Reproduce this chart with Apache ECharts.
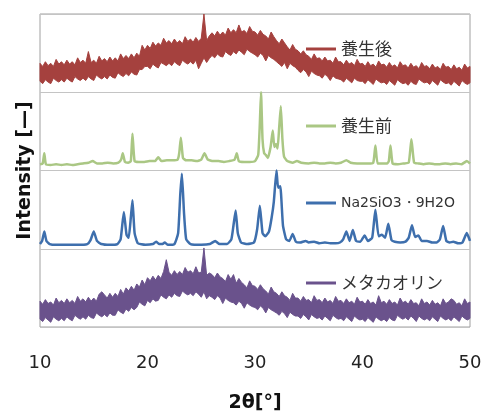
<!DOCTYPE html>
<html><head><meta charset="utf-8">
<script src="https://cdn.jsdelivr.net/npm/echarts@6/dist/echarts.min.js"></script>
<style>html,body{margin:0;padding:0;background:#fff}#c{width:486px;height:418px}</style>
</head><body><div id="c"></div>
<script>
// Names
const names = ['養生後', '養生前', 'Na2SiO3・9H2O', 'メタカオリン'];
const colors = ['#a5413e', '#aac784', '#3e6fad', '#6a528c'];
const xTicks = [10, 20, 30, 40, 50];

// Noisy amorphous patterns sampled every 0.25° from 10° to 50°:
// lower and upper edges of the noise band
const noisyStart = 10, noisyStep = 0.25;
const afterCuringHi = [
37,33,39,34, 37,33,42,36, 39,35,41,36, 39,35,44,38, 41,37,52,38,
41,37,46,40, 43,39,45,40, 44,40,49,43, 47,43,49,44, 50,46,60,54,
60,56,64,59, 63,60,69,63, 66,62,68,63, 66,62,71,65, 68,64,70,65,
69,100,66,72, 76,72,78,73, 77,73,82,76, 80,76,86,77, 79,75,84,78,
77,73,79,74, 72,68,77,71, 66,62,68,63, 58,54,61,55, 53,49,53,48,
46,42,49,43, 44,40,45,40, 41,37,45,39, 39,35,41,36, 38,34,42,36,
37,33,39,34, 36,32,40,35, 36,32,38,33, 35,31,39,34, 35,31,37,32,
34,30,38,33, 34,30,36,31, 33,29,37,32, 33,29,35,30, 32,28,36,31,
33];
const afterCuringLo = [
14,11,16,13, 11,18,15,13, 16,13,18,15, 13,20,17,15, 18,15,20,17,
15,22,19,17, 20,17,22,19, 18,25,22,20, 24,21,26,23, 22,29,29,33,
33,30,36,33, 31,38,36,34, 37,34,39,36, 34,41,38,36, 39,36,41,30,
37,44,38,43, 47,44,49,46, 45,52,49,47, 52,49,54,51, 48,55,52,50,
48,45,50,47, 40,47,44,42, 39,36,33,38, 30,37,34,32, 28,25,29,26,
20,27,24,22, 21,18,23,20, 15,21,18,17, 16,13,18,15, 12,18,15,14,
14,11,16,13, 10,17,14,12, 13,10,15,12, 9,16,13,11, 12,9,14,11,
10,17,14,12, 13,10,15,12, 9,16,13,11, 12,9,14,11, 8,15,12,10,
12];
const metakaolinHi = [
33,29,35,30, 32,28,37,31, 34,30,36,31, 34,30,39,33, 36,32,38,33,
37,33,42,45, 41,37,43,38, 43,39,48,42, 50,46,52,47, 55,51,60,54,
63,59,65,60, 66,62,71,86, 70,66,72,67, 71,67,76,70, 72,68,77,69,
70,101,66,69, 67,63,69,64, 62,58,67,61, 67,56,62,57, 54,50,59,53,
52,48,54,49, 46,42,51,45, 43,39,45,40, 38,34,43,37, 37,33,39,34,
35,31,40,34, 35,31,37,32, 34,30,39,33, 34,30,36,31, 33,29,38,32,
33,29,35,30, 32,28,40,31, 33,29,35,30, 32,28,37,31, 33,29,35,30,
31,27,36,30, 32,28,34,29, 31,27,36,30, 32,36,34,29, 31,27,36,30,
32];
const metakaolinLo = [
10,7,12,9, 6,13,10,8, 11,8,13,10, 8,15,12,10, 13,10,15,12,
11,18,15,13, 16,13,18,15, 15,22,19,17, 23,20,25,22, 25,32,29,27,
34,31,36,33, 34,41,38,36, 41,38,43,40, 39,46,43,41, 43,40,45,42,
38,45,36,40, 38,35,40,37, 30,37,34,32, 31,28,33,30, 24,31,28,26,
25,22,27,24, 18,25,22,20, 18,15,20,17, 12,19,16,14, 14,11,16,13,
9,16,13,11, 12,9,14,11, 8,15,12,10, 11,8,13,10, 7,14,11,9,
10,7,12,9, 6,13,10,8, 10,7,12,9, 8,15,12,10, 12,9,14,11,
7,14,11,9, 11,8,13,10, 7,14,11,9, 11,8,13,10, 7,14,11,9,
11];

// Crystalline patterns: 2θ positions and intensities
const beforeX = [10.0,10.25,10.4,10.55,11.0,11.5,12.0,12.5,13.0,13.5,14.0,14.5,14.9,15.3,15.8,16.3,16.8,17.3,17.55,17.7,17.9,18.2,18.45,18.6,18.8,19.2,19.7,20.2,20.7,21.0,21.3,21.8,22.3,22.8,22.95,23.1,23.3,23.6,24.1,24.6,25.0,25.3,25.6,26.1,26.6,27.1,27.6,28.1,28.3,28.5,29.0,29.5,30.0,30.3,30.45,30.56,30.7,30.85,31.0,31.2,31.45,31.65,31.8,31.95,32.1,32.25,32.4,32.55,32.7,33.0,33.5,33.9,34.3,35.0,35.5,36.0,36.5,37.0,37.5,38.0,38.5,38.9,39.5,40.0,40.5,41.0,41.2,41.4,41.8,42.3,42.45,42.6,42.8,43.3,43.8,44.3,44.55,44.8,45.2,45.7,46.2,46.7,47.2,47.7,48.2,48.7,49.2,49.7,50.0];
const beforeY = [8,9,22,8,7,8,7,8,7,8,9,10,12,9,9,10,9,10,14,22,11,10,12,47,12,11,11,12,12,17,12,13,13,14,22,42,16,13,13,12,14,22,14,12,12,11,12,14,22,12,11,11,12,20,60,100,40,22,20,16,30,51,30,34,28,55,82,40,18,12,10,12,10,9,10,9,9,10,9,10,13,10,9,9,9,10,32,9,9,9,12,32,9,8,9,10,40,10,9,8,9,8,8,9,8,9,8,12,9];

const naX = [10.0,10.2,10.4,10.6,10.9,11.5,12.5,13.5,14.4,14.7,15.0,15.3,15.7,16.5,17.2,17.5,17.8,18.05,18.25,18.45,18.6,18.8,19.1,19.8,20.5,20.8,21.1,21.4,21.6,21.9,22.5,22.85,23.05,23.2,23.4,23.6,24.0,25.0,25.8,26.3,26.7,27.4,27.8,28.0,28.2,28.4,28.7,29.3,29.9,30.2,30.45,30.7,30.95,31.3,31.55,31.75,32.0,32.15,32.35,32.6,32.9,33.2,33.5,33.8,34.2,34.7,35.0,35.5,36.0,36.5,37.0,37.5,37.9,38.2,38.5,38.8,39.1,39.4,39.8,40.2,40.5,40.9,41.2,41.5,41.8,42.1,42.4,42.7,43.0,43.5,44.0,44.3,44.6,44.9,45.2,45.5,46.0,46.5,46.9,47.2,47.5,47.8,48.1,48.45,48.9,49.3,49.7,50.0];
const naY = [6,10,22,10,6,5,5,5,6,11,22,10,6,5,6,12,47,18,14,40,62,20,7,5,6,9,6,6,8,5,6,20,70,96,45,12,6,5,6,10,6,6,12,30,49,20,8,6,8,25,55,20,16,22,40,60,100,78,80,30,12,10,19,9,8,10,8,9,7,8,7,7,8,12,22,10,24,10,9,17,10,14,50,16,18,14,32,11,9,8,9,14,30,15,17,10,10,8,8,12,29,10,8,9,7,8,20,10];

// stacking offsets (panel positions)
const offsets = [300, 200, 100, 0];
const legendCenters = [49, 126, 203, 283];

const chart = echarts.init(document.getElementById('c'), null, {renderer: 'canvas'});
const fontEn = '"DejaVu Sans", Verdana, sans-serif';
const fontJp = '"Noto Sans CJK JP", sans-serif';

function bandSeries(lo, hi, idx) {
  const c = colors[idx];
  const off = offsets[idx];
  const rows = lo.map((v, i) => [noisyStart + i * noisyStep, v + off, hi[i] + off]);
  return {
    name: names[idx], type: 'custom', clip: false, z: 2,
    itemStyle: {color: c},
    data: rows,
    encode: {x: 0, y: [1, 2]},
    renderItem: function (params, api) {
      if (params.dataIndex !== 0) return null;
      const upper = rows.map(r => api.coord([r[0], r[2]]));
      const lower = rows.map(r => api.coord([r[0], r[1]])).reverse();
      return {type: 'polygon', shape: {points: upper.concat(lower)},
        style: {fill: c, stroke: c, lineWidth: 1, lineJoin: 'miter', miterLimit: 4}};
    }
  };
}
function peakSeries(xs, ys, idx) {
  const c = colors[idx];
  return {name: names[idx], type: 'line', showSymbol: false, symbol: 'none', clip: false, smooth: 0.15,
    data: xs.map((x, i) => [x, ys[i] + offsets[idx]]),
    lineStyle: {color: c, width: 2.5, join: 'round'}, itemStyle: {color: c}, z: 3};
}

const series = [
  bandSeries(afterCuringLo, afterCuringHi, 0),
  peakSeries(beforeX, beforeY, 1),
  peakSeries(naX, naY, 2),
  bandSeries(metakaolinLo, metakaolinHi, 3)
];

const option = {
  animation: false,
  backgroundColor: '#fff',
  grid: {left: 40, right: 16, top: 14, bottom: 84, show: true, borderColor: '#a0a0a0', borderWidth: 1, backgroundColor: 'transparent'},
  xAxis: {
    type: 'value', min: 10, max: 50, interval: 10,
    name: '2θ[°]', nameLocation: 'middle', nameGap: 67,
    nameTextStyle: {fontSize: 19, fontWeight: 'bold', color: '#111', fontFamily: fontEn},
    axisLine: {show: false}, axisTick: {show: false}, splitLine: {show: false},
    axisLabel: {fontSize: 18, color: '#222', margin: 27, fontFamily: fontEn}
  },
  yAxis: {
    type: 'value', min: 0, max: 400, interval: 100,
    name: 'Intensity [—]', nameLocation: 'middle', nameGap: 5, nameRotate: 90,
    nameTextStyle: {fontSize: 19, fontWeight: 'bold', color: '#111', fontFamily: fontEn},
    axisLine: {show: false}, axisTick: {show: false}, axisLabel: {show: false},
    splitLine: {show: true, lineStyle: {color: '#c4c4c4', width: 1}}
  },
  legend: names.map((n, i) => ({
    data: [n], left: 306, top: legendCenters[i] - 10, padding: 0,
    icon: 'rect', itemWidth: 30, itemHeight: 3, selectedMode: false,
    itemStyle: {color: colors[i]},
    textStyle: {fontSize: i === 2 ? 14 : 17, lineHeight: 20, color: '#333', fontFamily: i === 2 ? fontEn : fontJp}
  })),
  series: series
};
chart.setOption(option);
</script></body></html>
